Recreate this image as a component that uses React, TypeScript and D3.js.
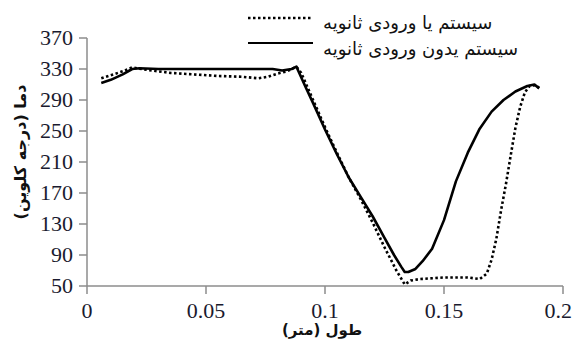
import React from "react";
import * as d3 from "d3";

// length (m) and temperature (K)
const xWith = [0.006, 0.01, 0.015, 0.019, 0.025, 0.035, 0.045, 0.055, 0.065, 0.072, 0.076, 0.08, 0.084, 0.088, 0.09, 0.095, 0.1, 0.105, 0.11, 0.115, 0.12, 0.125, 0.13, 0.1335, 0.136, 0.14, 0.145, 0.15, 0.155, 0.16, 0.165, 0.168, 0.17, 0.172, 0.174, 0.176, 0.178, 0.18, 0.182, 0.184, 0.186, 0.188, 0.19];
const tWith = [318, 322, 327, 332, 329, 325, 323, 321, 320, 318, 320, 324, 327, 333, 325, 290, 255, 222, 190, 162, 132, 100, 70, 52, 57, 59, 60, 61, 61, 61, 59, 66, 84, 111, 148, 181, 218, 254, 281, 300, 308, 309, 306];

const xWithout = [0.006, 0.01, 0.015, 0.019, 0.022, 0.03, 0.04, 0.05, 0.06, 0.07, 0.078, 0.082, 0.086, 0.088, 0.0915, 0.095, 0.1, 0.105, 0.11, 0.115, 0.12, 0.125, 0.129, 0.132, 0.1335, 0.135, 0.138, 0.141, 0.145, 0.15, 0.155, 0.16, 0.165, 0.17, 0.175, 0.18, 0.185, 0.188, 0.19];
const tWithout = [312, 316, 323, 330, 331, 330, 330, 330, 330, 330, 330, 328, 330, 333, 309, 286, 252, 220, 190, 165, 140, 112, 90, 75, 68, 68, 72, 82, 98, 135, 185, 222, 253, 275, 290, 301, 308, 310, 305];

const xTicks = [0, 0.05, 0.1, 0.15, 0.2];
const yTicks = [50, 90, 130, 170, 210, 250, 290, 330, 370];

const legendWith = "سیستم یا ورودی ثانویه";
const legendWithout = "سیستم یدون ورودی ثانویه";
const yTitle = "دما (درجه کلوین)";
const xTitle = "طول (متر)";

const W = 574;
const H = 342;
const left = 87;
const right = 563;
const top = 38;
const bottom = 286;

export default function App() {
  const x = d3.scaleLinear().domain([0, 0.2]).range([left, right]);
  const y = d3.scaleLinear().domain([50, 370]).range([bottom, top]);
  const line = d3
    .line<[number, number]>()
    .x((d) => x(d[0]))
    .y((d) => y(d[1]));
  const withPts = xWith.map((v, i) => [v, tWith[i]] as [number, number]);
  const withoutPts = xWithout.map((v, i) => [v, tWithout[i]] as [number, number]);
  const axisColor = "#8c8c8c";
  const tickFont = "Liberation Serif";
  const arFont = "DejaVu Sans";

  return (
    <svg
      width={W}
      height={H}
      style={{ position: "absolute", left: 0, top: 0, background: "#fff" }}
    >
      {/* axes */}
      <line x1={left} x2={left} y1={top} y2={bottom} stroke={axisColor} strokeWidth={1.5} />
      <line x1={left} x2={right} y1={bottom} y2={bottom} stroke={axisColor} strokeWidth={1.5} />
      {yTicks.map((t) => (
        <g key={"y" + t}>
          <line x1={left - 8} x2={left} y1={y(t)} y2={y(t)} stroke={axisColor} strokeWidth={1.5} />
          <text
            x={73}
            y={y(t)}
            dy="0.34em"
            textAnchor="end"
            fontFamily={tickFont}
            fontSize={22}
            fill="#1a1a2e"
          >
            {t}
          </text>
        </g>
      ))}
      {xTicks.map((t, i) => {
        const last = i === xTicks.length - 1;
        return (
          <g key={"x" + t}>
            <line x1={x(t)} x2={x(t)} y1={bottom} y2={bottom + 8} stroke={axisColor} strokeWidth={1.5} />
            <text
              x={last ? W - 2 : x(t)}
              y={bottom + 32}
              textAnchor={last ? "end" : "middle"}
              fontFamily={tickFont}
              fontSize={22}
              fill="#1a1a2e"
            >
              {t}
            </text>
          </g>
        );
      })}

      {/* series */}
      <path d={line(withoutPts) ?? ""} fill="none" stroke="#000" strokeWidth={2.6} strokeLinejoin="round" />
      <path d={line(withPts) ?? ""} fill="none" stroke="#000" strokeWidth={2.6} strokeDasharray="2.5 2.5" />

      {/* legend */}
      <line x1={248} x2={313} y1={18} y2={18} stroke="#000" strokeWidth={2.6} strokeDasharray="2.5 2.5" />
      <line x1={248} x2={313} y1={43} y2={43} stroke="#000" strokeWidth={2.2} />
      <text x={323} y={29} fontFamily={arFont} fontSize={18} fill="#111">
        {legendWith}
      </text>
      <text x={323} y={55} fontFamily={arFont} fontSize={18} fill="#111">
        {legendWithout}
      </text>

      {/* axis titles */}
      <text
        transform={`translate(26, 152) rotate(-90)`}
        textAnchor="middle"
        fontFamily={arFont}
        fontSize={16}
        fontWeight="bold"
        fill="#111"
      >
        {yTitle}
      </text>
      <text
        x={322}
        y={335}
        textAnchor="middle"
        fontFamily={arFont}
        fontSize={15}
        fontWeight="bold"
        fill="#111"
      >
        {xTitle}
      </text>
    </svg>
  );
}
